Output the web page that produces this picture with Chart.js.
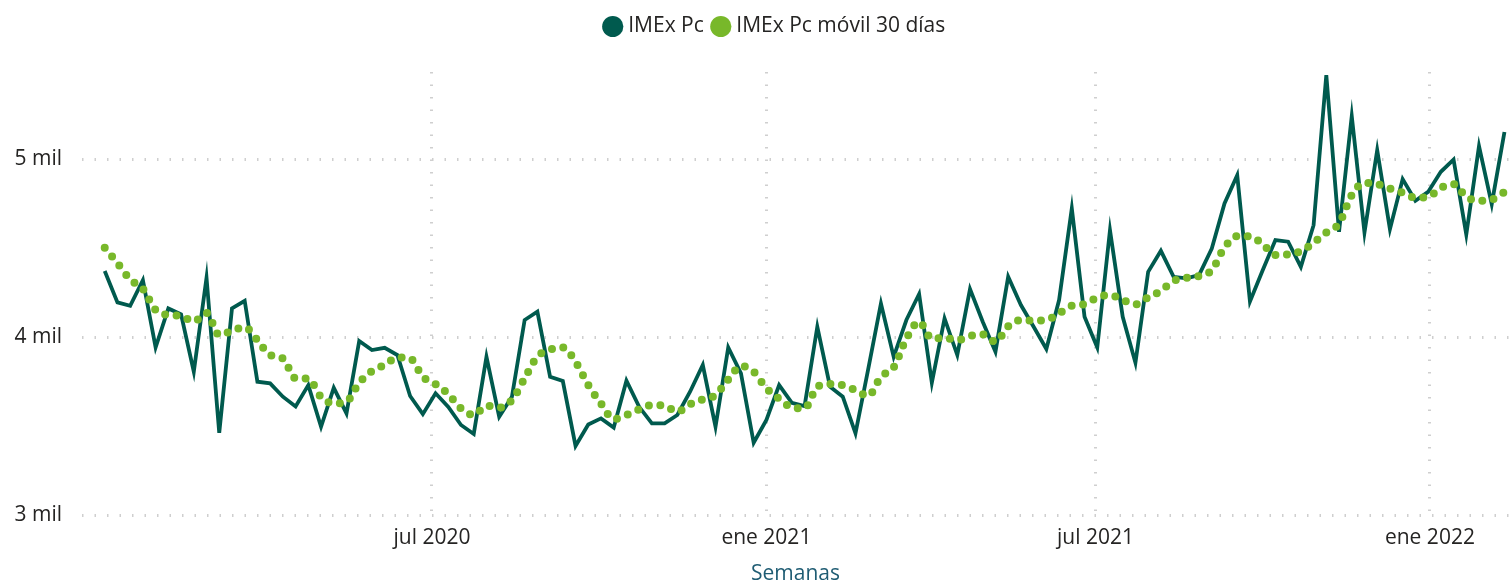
<!DOCTYPE html>
<html>
<head>
<meta charset="utf-8">
<script src="https://cdn.jsdelivr.net/npm/chart.js@4.4.1/dist/chart.umd.min.js"></script>
<style>
  html, body { margin: 0; padding: 0; background: #fff; }
  #wrap { width: 1509px; height: 582px; }
</style>
</head>
<body>
<div id="wrap"><canvas id="imexChart"></canvas></div>
<script>
// ─── Data ─────────────────────────────────────────────────────────────────────
// weeks are placed by day number, counted from 1 ene 2020 (= day 0)
const FIRST_WEEK_DAY = 2;   // 3 ene 2020
const WEEK_STEP      = 7;

const imexPc = [
  4371, 4195, 4176, 4320, 3942, 4161, 4128, 3805, 4333, 3462,
  4161, 4204, 3749, 3740, 3665, 3610, 3730, 3496, 3715, 3571,
  3978, 3927, 3940, 3899, 3669, 3567, 3684, 3608, 3506, 3455,
  3889, 3552, 3665, 4096, 4143, 3777, 3753, 3388, 3509, 3543,
  3491, 3755, 3608, 3515, 3515, 3562, 3693, 3843, 3496, 3942,
  3796, 3406, 3534, 3730, 3631, 3612, 4058, 3721, 3665, 3459,
  3820, 4189, 3889, 4096, 4242, 3743, 4105, 3899, 4270, 4086,
  3918, 4339, 4180, 4058, 3933, 4208, 4723, 4114, 3942, 4601,
  4114, 3856, 4367, 4485, 4339, 4330, 4348, 4498, 4751, 4910,
  4200, 4376, 4545, 4536, 4395, 4629, 5472, 4592, 5242, 4588,
  5051, 4607, 4888, 4766, 4816, 4929, 4998, 4577, 5073, 4747,
  5153
];

const imexPcMovil = [
  4502, 4416, 4324, 4271, 4152, 4124, 4118, 4088, 4136, 4011,
  4035, 4056, 3983, 3899, 3880, 3768, 3766, 3663, 3627, 3637,
  3743, 3809, 3843, 3886, 3880, 3777, 3736, 3680, 3599, 3562,
  3614, 3603, 3646, 3768, 3890, 3929, 3942, 3861, 3730, 3627,
  3539, 3562, 3594, 3618, 3614, 3580, 3622, 3650, 3674, 3762,
  3837, 3805, 3712, 3653, 3605, 3599, 3721, 3736, 3729, 3702,
  3669, 3777, 3830, 3992, 4086, 3992, 3996, 3983, 4006, 4015,
  3974, 4060, 4096, 4092, 4096, 4133, 4176, 4185, 4223, 4236,
  4208, 4184, 4223, 4260, 4315, 4333, 4343, 4376, 4504, 4567,
  4567, 4522, 4461, 4465, 4483, 4530, 4588, 4638, 4798, 4867,
  4860, 4835, 4812, 4784, 4788, 4839, 4860, 4788, 4766, 4773,
  4816
];

const TICK_DAYS   = [182, 366, 547, 731];
const TICK_LABELS = ['jul 2020', 'ene 2021', 'jul 2021', 'ene 2022'];
const Y_TICKS     = [3000, 4000, 5000];

const DARK  = '#005A4E';
const GREEN = '#78B82A';
const TEXT  = '#252423';
const FONT  = "'Open Sans', 'Noto Sans', sans-serif";

const toPoints = (arr) => arr.map((v, i) => ({ x: FIRST_WEEK_DAY + i * WEEK_STEP, y: v }));

// legend: fixed height (plot starts at y=72) and nudged right like the original
const legendTweak = {
  id: 'legendTweak',
  beforeInit(chart) {
    const fit = chart.legend.fit;
    chart.legend.fit = function () {
      fit.call(this);
      this.height = 68;
    };
  },
  afterLayout(chart) {
    chart.legend.left += 22;
    chart.legend.right += 22;
  }
};

// ─── Chart ────────────────────────────────────────────────────────────────────
const ctx = document.getElementById('imexChart').getContext('2d');

new Chart(ctx, {
  type: 'line',
  data: {
    datasets: [
      {
        label: 'IMEx Pc',
        data: toPoints(imexPc),
        borderColor: DARK,
        backgroundColor: DARK,
        borderWidth: 3.8,
        pointRadius: 0,
        tension: 0,
        order: 2
      },
      {
        label: 'IMEx Pc móvil 30 días',
        data: toPoints(imexPcMovil),
        borderColor: GREEN,
        backgroundColor: GREEN,
        borderWidth: 8,
        borderDash: [0, 11.5],
        borderCapStyle: 'round',
        cubicInterpolationMode: 'monotone',
        pointRadius: 0,
        order: 1
      }
    ]
  },
  options: {
    responsive: true,
    maintainAspectRatio: false,
    animation: false,
    layout: { padding: { top: 4, right: 0, bottom: 0, left: 0 } },
    scales: {
      x: {
        type: 'linear',
        min: -10.5,
        max: 774.5,
        afterBuildTicks: (scale) => { scale.ticks = TICK_DAYS.map(v => ({ value: v })); },
        afterFit: (scale) => { scale.height = 67; },
        grid: { color: '#CFCFCF', lineWidth: 3, drawTicks: false },
        border: { display: false, dash: [1.5, 11] },
        ticks: {
          padding: 10,
          maxRotation: 0,
          autoSkip: false,
          color: TEXT,
          font: { family: FONT, size: 21 },
          callback: (value) => TICK_LABELS[TICK_DAYS.indexOf(value)]
        },
        title: {
          display: true,
          text: 'Semanas',
          color: '#1F5C73',
          font: { family: FONT, size: 21, lineHeight: 1 },
          padding: { top: 2, bottom: -3 }
        }
      },
      y: {
        min: 3000,
        max: 5490,
        afterBuildTicks: (scale) => { scale.ticks = Y_TICKS.map(v => ({ value: v })); },
        afterFit: (scale) => { scale.width = 82; },
        grid: { color: '#CFCFCF', lineWidth: 3, drawTicks: false },
        border: { display: false, dash: [1.5, 11] },
        ticks: {
          padding: 20,
          color: TEXT,
          font: { family: FONT, size: 21 },
          callback: (value) => (value / 1000) + ' mil'
        }
      }
    },
    plugins: {
      legend: {
        display: true,
        position: 'top',
        labels: {
          usePointStyle: true,
          pointStyle: 'circle',
          boxWidth: 10,
          boxHeight: 15,
          padding: 12,
          color: TEXT,
          font: { family: FONT, size: 21 },
          sort: (a, b) => a.datasetIndex - b.datasetIndex,
          generateLabels: (chart) =>
            Chart.defaults.plugins.legend.labels.generateLabels(chart).map(item => ({
              ...item, lineWidth: 0, lineDash: [], fillStyle: item.strokeStyle
            }))
        }
      },
      tooltip: { enabled: false }
    }
  },
  plugins: [legendTweak]
});
</script>
</body>
</html>
